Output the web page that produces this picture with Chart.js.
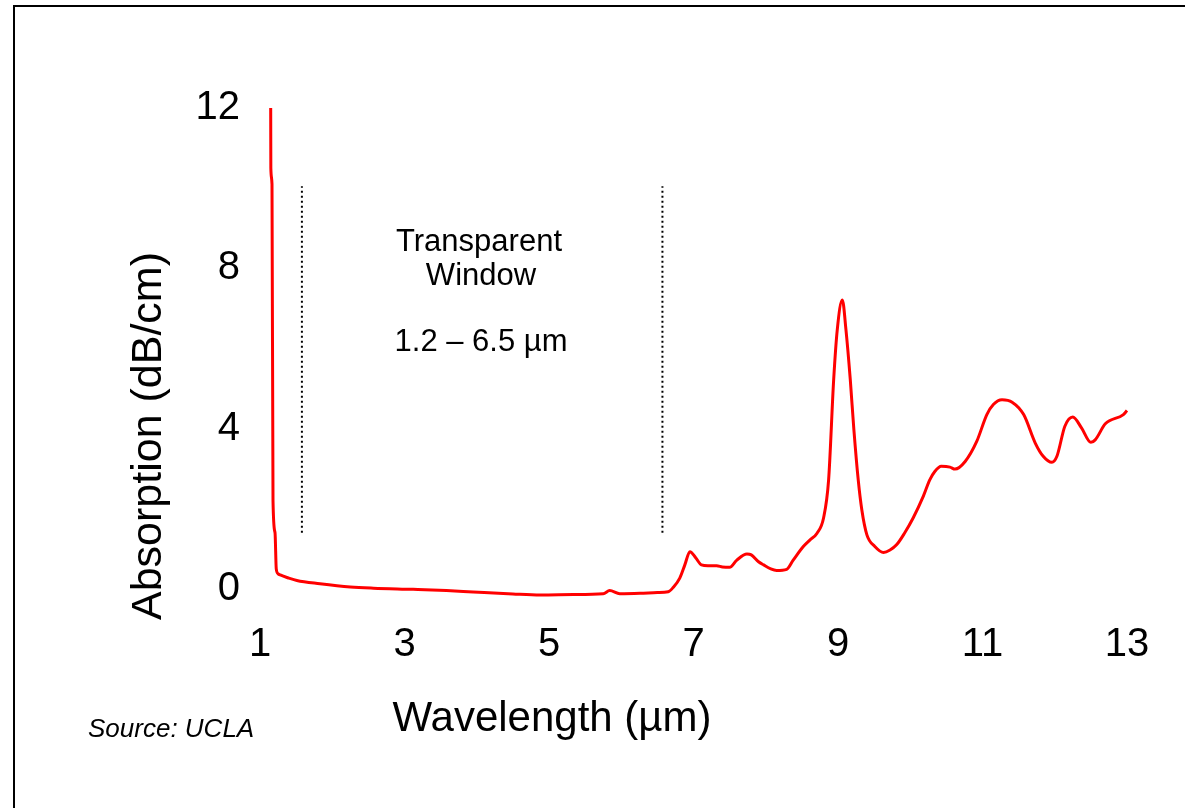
<!DOCTYPE html>
<html>
<head>
<meta charset="utf-8">
<script src="https://cdn.jsdelivr.net/npm/chart.js@4"></script>
<style>
  html, body { margin: 0; padding: 0; background: #fff; overflow: hidden; }
  #wrap { position: absolute; left: 0; top: 0; width: 1185px; height: 808px; }
  #frame { position: absolute; left: 13px; top: 5px; width: 2000px; height: 2000px;
           border-left: 2px solid #000; border-top: 2px solid #000; pointer-events: none; }
</style>
</head>
<body>
<div id="frame"></div>
<div id="wrap"><canvas id="chart"></canvas></div>
<script>
// Absorption spectrum
const wavelength = [1.148, 1.150, 1.166, 1.18, 1.208, 1.225, 1.25, 1.28, 1.4, 1.51, 1.83, 2.25, 2.57, 3.12, 3.58, 3.95,
  4.5, 4.88, 5.34, 5.75, 5.84, 5.98, 6.26, 6.5, 6.65, 6.72, 6.81, 6.88, 6.95, 7.03, 7.11, 7.2, 7.32, 7.4, 7.5,
  7.6, 7.74, 7.8, 7.9, 7.97, 8.07, 8.15, 8.29, 8.38, 8.52, 8.61, 8.71, 8.8, 8.87, 8.94, 8.99, 9.06, 9.11, 9.17,
  9.22, 9.28, 9.33, 9.4, 9.51, 9.63, 9.72, 9.81, 9.92, 10.04, 10.18, 10.27, 10.34, 10.43, 10.55, 10.62, 10.76,
  10.92, 11.06, 11.15, 11.27, 11.41, 11.57, 11.73, 11.84, 11.96, 12.03, 12.14, 12.25, 12.37, 12.5, 12.56, 12.7,
  12.95, 13.0];
const absorption = [12.0, 10.5, 10.1, 2.2, 1.4, 0.5, 0.38, 0.35, 0.27, 0.21, 0.13, 0.05, 0.02, -0.01, -0.04, -0.075,
  -0.125, -0.15, -0.14, -0.12, -0.04, -0.12, -0.11, -0.09, -0.07, 0.04, 0.27, 0.6, 0.93, 0.78, 0.6, 0.58, 0.58, 0.55, 0.54,
  0.72, 0.87, 0.85, 0.68, 0.6, 0.5, 0.46, 0.49, 0.72, 1.06, 1.22, 1.39, 1.77, 2.72, 5.22, 6.47, 7.21, 6.47, 5.22,
  3.97, 2.72, 1.97, 1.35, 1.06, 0.91, 0.97, 1.1, 1.39, 1.77, 2.31, 2.72, 2.93, 3.06, 3.04, 2.99, 3.18,
  3.68, 4.35, 4.6, 4.72, 4.66, 4.35, 3.64, 3.31, 3.16, 3.31, 4.06, 4.29, 4.02, 3.66, 3.72, 4.12,
  4.35, 4.45];

// dotted lines marking the transparent window
const windowEdges = [1.58, 6.57];
const windowSpan = [1.4, 10.05];

const xTicks = [1, 3, 5, 7, 9, 11, 13];
const yTicks = [0, 4, 8, 12];

const font = '"Liberation Sans", Arial, sans-serif';

const edgeSets = windowEdges.map(x => ({
  data: windowSpan.map(y => ({ x, y })),
  borderColor: '#000',
  borderWidth: 2,
  borderDash: [2, 3],
  pointRadius: 0,
  clip: false
}));

// Texts that sit on the slide rather than on the axes
const notes = {
  id: 'notes',
  afterDraw(chart) {
    const ctx = chart.ctx;
    ctx.save();
    ctx.fillStyle = '#000';
    ctx.textAlign = 'center';
    ctx.textBaseline = 'alphabetic';

    ctx.font = '31px ' + font;
    ctx.fillText('Transparent', 479, 251);
    ctx.fillText('Window', 481, 285);
    ctx.fillText('1.2 \u2013 6.5 \u00b5m', 481, 351);

    ctx.font = '42px ' + font;
    ctx.fillText('Wavelength (\u00b5m)', 552, 731);

    ctx.font = '43px ' + font;
    ctx.save();
    ctx.translate(161, 436);
    ctx.rotate(-Math.PI / 2);
    ctx.fillText('Absorption (dB/cm)', 0, 0);
    ctx.restore();

    ctx.font = 'italic 26px ' + font;
    ctx.textAlign = 'left';
    ctx.fillText('Source: UCLA', 88, 737);
    ctx.restore();
  }
};

new Chart(document.getElementById('chart'), {
  type: 'line',
  data: {
    datasets: [{
      data: wavelength.map((x, i) => ({ x, y: absorption[i] })),
      borderColor: '#ff0000',
      borderWidth: 3,
      pointRadius: 0,
      cubicInterpolationMode: 'monotone',
      clip: false
    }, ...edgeSets]
  },
  options: {
    responsive: true,
    maintainAspectRatio: false,
    animation: false,
    layout: { padding: { top: 108, right: 58, left: 0, bottom: 0 } },
    plugins: { legend: { display: false }, tooltip: { enabled: false } },
    scales: {
      x: {
        type: 'linear',
        min: 1,
        max: 13,
        grid: { display: false },
        border: { display: false },
        afterBuildTicks: axis => { axis.ticks = xTicks.map(v => ({ value: v })); },
        afterFit: axis => { axis.height = 195; },
        ticks: { color: '#000', padding: 0, maxRotation: 0, font: { family: font, size: 40 } }
      },
      y: {
        min: -0.6,
        max: 12,
        grid: { display: false },
        border: { display: false },
        afterBuildTicks: axis => { axis.ticks = yTicks.map(v => ({ value: v })); },
        afterFit: axis => { axis.width = 260; },
        ticks: { color: '#000', padding: 12, font: { family: font, size: 40 } }
      }
    }
  },
  plugins: [notes]
});
</script>
</body>
</html>
